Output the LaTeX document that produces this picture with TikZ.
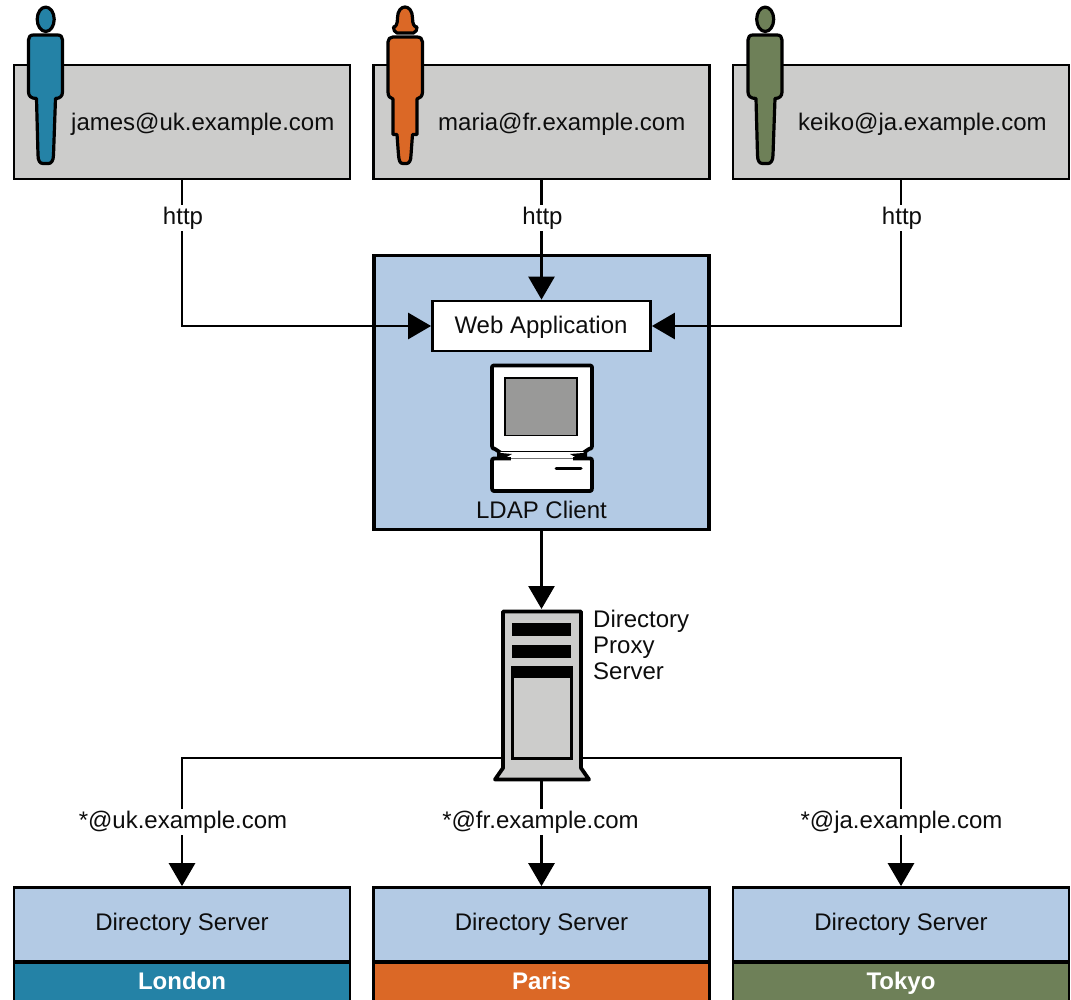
\documentclass[tikz,border=0pt]{standalone}
\usepackage{fontspec}
\setmainfont{Liberation Sans}
\usetikzlibrary{arrows.meta}
\definecolor{boxgray}{HTML}{CCCCCB}
\definecolor{lblue}{HTML}{B3CAE4}
\definecolor{cblue}{HTML}{2482A6}
\definecolor{corange}{HTML}{DB6826}
\definecolor{cgreen}{HTML}{6E8058}
\definecolor{scrn}{HTML}{999998}
\tikzset{
  x=1pt,y=-1pt,
  txt/.style={font=\fontsize{24}{28}\selectfont,text=black!95,inner sep=0pt,anchor=base},
  lbl/.style={txt,fill=white,inner sep=2pt},
  userbox/.style={draw=black,line width=2.7pt,fill=boxgray,minimum width=336pt,minimum height=114pt,inner sep=0pt},
  conn/.style={draw=black,line width=2.8pt},
  arr/.style={conn,-{Triangle[length=23pt,width=26pt]}},
  person/.style={draw=black,line width=3.2pt,line join=round},
  dsbox/.style={draw=black,line width=2.7pt,minimum width=336pt,minimum height=74pt,fill=lblue,inner sep=0pt},
  cityband/.style={draw=black,line width=2.7pt,minimum width=336pt,minimum height=60pt,inner sep=0pt,anchor=north},
  hw/.style={draw=black,line width=3.8pt},
}
\begin{document}
\begin{tikzpicture}
\useasboundingbox (0,0) rectangle (1071,1000);
\clip (0,0) rectangle (1071,1000);
% user boxes
\node[userbox] (u1) at (182,122) {};
\node[userbox] (u2) at (541.5,122) {};
\node[userbox] (u3) at (901,122) {};
\node[txt,anchor=base west] (t1) at (71,130.7) {james@uk.example.com};
\node[txt,anchor=base west] (t2) at (438,130.7) {maria@fr.example.com};
\node[txt,anchor=base west] (t3) at (798,130.7) {keiko@ja.example.com};
% persons
\foreach \dx/\col in {0/cblue,719.5/cgreen}{
\begin{scope}[xshift=\dx pt]
\draw[person,fill=\col] (45.7,19.3) ellipse (8.5pt and 12.2pt);
\draw[person,fill=\col] (33.5,35) -- (57.5,35) .. controls (61,35) and (62.5,37) .. (62.5,40) -- (62.5,92) .. controls (62.5,96) and (60,98.5) .. (55.5,98.5) -- (53.5,155) .. controls (53.5,161) and (51,163.5) .. (48.5,163.5) -- (43,163.5) .. controls (40,163.5) and (38,161) .. (38,155) -- (36.5,98.5) .. controls (31,98.5) and (28.5,96) .. (28.5,92) -- (28.5,40) .. controls (28.5,37) and (30,35) .. (33.5,35) -- cycle;
\end{scope}}
\draw[person,fill=corange] (397,33) .. controls (394.5,32) and (393.5,30) .. (393.5,27) .. controls (396,27) and (397.5,24) .. (397.5,18) .. controls (397.5,11) and (401,7) .. (405,7) .. controls (409,7) and (412.5,11) .. (412.5,18) .. controls (412.5,24) and (414,27) .. (417,27) .. controls (417,30) and (416,32) .. (413.5,33) -- cycle;
\draw[person,fill=corange] (393,37) -- (417,37) .. controls (420.5,37) and (422.5,39) .. (422.5,42) -- (422.5,92) .. controls (422.5,96) and (420,98.5) .. (417,99) -- (417,134.5) -- (412.5,134.5) -- (411,155) .. controls (411,161) and (409,163.5) .. (406.5,163.5) -- (403,163.5) .. controls (400,163.5) and (399,161) .. (398.5,155) -- (397,134.5) -- (393,134.5) -- (393,99) .. controls (390,98.5) and (388,96) .. (388,92) -- (388,42) .. controls (388,39) and (390,37) .. (393,37) -- cycle;
% central box
\node[draw=black,line width=3.8pt,fill=lblue,minimum width=335pt,minimum height=274pt,inner sep=0pt] (client) at (541.5,392.5) {};
\node[draw=black,line width=2.8pt,fill=white,minimum width=218pt,minimum height=50pt,inner sep=0pt] (web) at (541.5,326) {};
\node[txt] (webt) at (541,333.7) {Web Application};
% computer
\draw[hw,fill=white,line join=round] (494,365.5) -- (590,365.5) .. controls (591.5,365.5) and (592,366) .. (592,367.5) -- (592,446) .. controls (592,448) and (591,449) .. (589,449) -- (583,453) -- (501,453) -- (495,449) .. controls (493,449) and (492,448) .. (492,446) -- (492,367.5) .. controls (492,366) and (492.5,365.5) .. (494,365.5) -- cycle;
\draw[draw=black,line width=1.8pt,fill=scrn] (505,378) rectangle (577,435.5);
\draw[hw,fill=white,line join=round] (494,458.5) -- (590,458.5) .. controls (591.5,458.5) and (592,459) .. (592,461) -- (592,488) .. controls (592,490) and (591.5,491) .. (590,491) -- (494,491) .. controls (492.5,491) and (492,490) .. (492,488) -- (492,461) .. controls (492,459) and (492.5,458.5) .. (494,458.5) -- cycle;
\fill[white] (500,451.5) rectangle (584,457);
\fill[black] (497,450) -- (501,453) -- (512,454) -- (504,458.5) -- (497,458.5) -- cycle;
\fill[black] (587,450) -- (583,453) -- (570,454) -- (578,458.5) -- (587,458.5) -- cycle;
\fill[white] (511,457) rectangle (573,460.5);
\draw[black!55,line width=1pt] (511,458.5) -- (573,458.5);
\draw[black,line width=3pt,line cap=round] (556,468) -- (581,468);
\node[txt] (ldap) at (541.5,518) {LDAP Client};
% server
\draw[hw,fill=boxgray,line join=round] (503,611.5) -- (581,611.5) -- (581,768) -- (589,779.5) -- (495,779.5) -- (503,768) -- cycle;
\fill[black] (512,623) rectangle (571,636);
\fill[black] (512,645) rectangle (571,658);
\draw[black,line width=3pt,fill=boxgray] (512.5,667.5) rectangle (571,758.5);
\fill[black] (511,666) rectangle (572.5,678);
\node[txt,anchor=base west] (dps1) at (593,627.5) {Directory};
\node[txt,anchor=base west] (dps2) at (593,653.5) {Proxy};
\node[txt,anchor=base west] (dps3) at (593,679.5) {Server};
\coordinate (srvL) at (503,758);
\coordinate (srvR) at (581,758);
\coordinate (srvB) at (541.5,781);
\coordinate (srvT) at (541.5,609);
% directory servers
\foreach \cx/\nm/\city/\col in {182/d1/London/cblue,541.5/d2/Paris/corange,901/d3/Tokyo/cgreen}{
  \node[dsbox] (\nm) at (\cx,924.5) {};
  \node[txt] (\nm s) at (\cx,930) {Directory Server};
  \node[cityband,fill=\col] (\nm c) at (\cx,961.5) {};
  \node[txt,text=white,font=\bfseries\fontsize{24}{28}\selectfont] (\nm t) at (\cx,989) {\city};
}
% connectors
\draw[arr] (u1.south) |- (web.west);
\draw[arr] (u2.south) -- (web.north);
\draw[arr] (u3.south) |- (web.east);
\draw[arr] (client.south) -- (srvT);
\draw[arr] (srvL) -| (d1.north);
\draw[arr] (srvR) -| (d3.north);
\draw[arr] (srvB) -- (d2.north);
\node[lbl] (h1) at (183,224.5) {http};
\node[lbl] (h2) at (542.5,224.5) {http};
\node[lbl] (h3) at (902,224.5) {http};
\node[lbl] (r1) at (183,828) {*@uk.example.com};
\node[lbl] (r2) at (540.5,828) {*@fr.example.com};
\node[lbl] (r3) at (901.5,828) {*@ja.example.com};
\end{tikzpicture}
\end{document}
